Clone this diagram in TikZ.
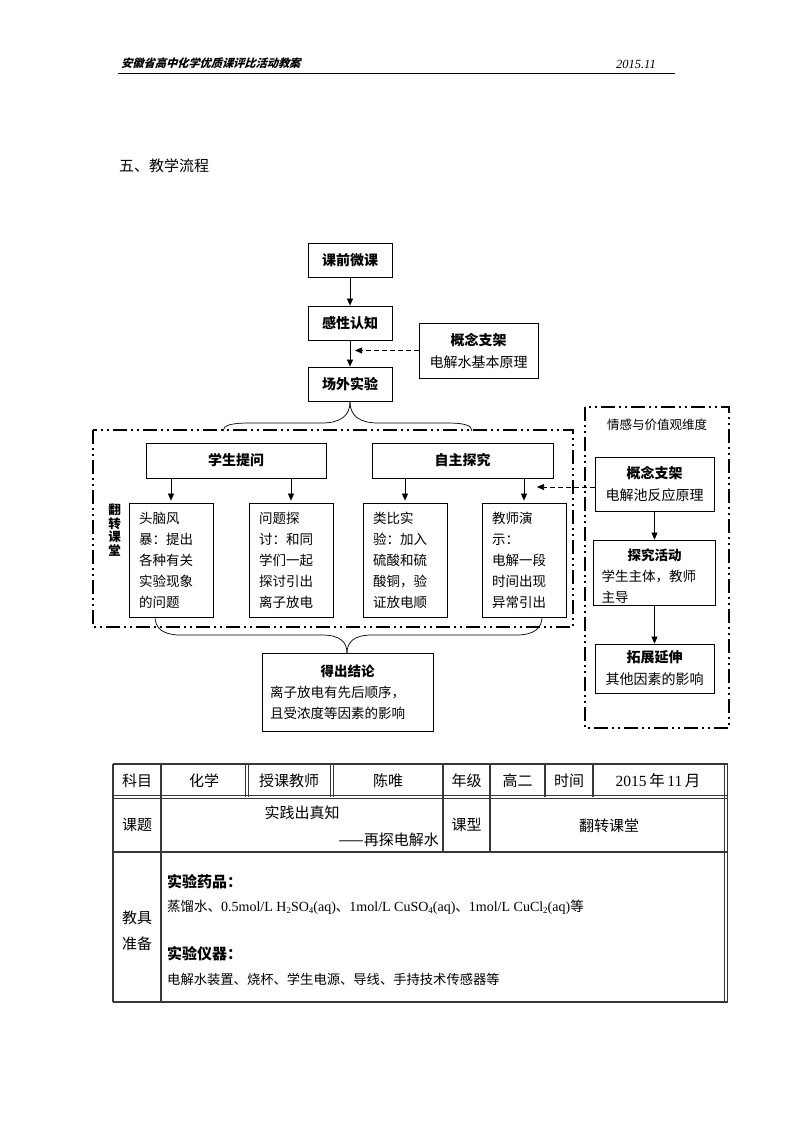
\documentclass[tikz,border=0pt]{standalone}
\usepackage{fontspec}
\setmainfont{Liberation Serif}
\newfontfamily\cjk{Noto Sans CJK SC}
\newfontfamily\cjkslant[FakeSlant=0.3]{Noto Sans CJK SC}
\usetikzlibrary{arrows.meta,calc}
% chemical subscript
\newcommand\sbx[1]{\raisebox{-0.35ex}{\fontsize{9}{9}\selectfont #1}}
\begin{document}
\begin{tikzpicture}[x=1pt,y=-1pt,
  box/.style={draw=black,line width=0.8pt,inner sep=0pt,align=center,
    font=\cjk\fontsize{14}{22}\selectfont},
  titlebox/.style={box,font=\cjk\bfseries\fontsize{14}{16}\selectfont},
  textbox/.style={box,align=left,text width=64pt,inner xsep=10pt,
    minimum height=114pt,font=\cjk\fontsize{13.5}{21}\selectfont},
  arr/.style={line width=0.7pt,-{Triangle[length=7pt,width=6pt]}},
  darr/.style={arr,dash pattern=on 4.5pt off 3.5pt},
  dashframe/.style={line width=1.6pt,
    dash pattern=on 14pt off 4pt on 2pt off 4pt on 2pt off 4pt},
  brace/.style={line width=0.7pt},
  tborder/.style={draw=black!78,line width=1.7pt},
  tinner/.style={draw=black!78,line width=1.2pt},
  tdouble/.style={draw=black!78,line width=0.8pt},
  cell/.style={inner sep=0pt,font=\cjk\fontsize{15}{26}\selectfont,align=center},
]
\useasboundingbox[fill=white] (0,0) rectangle (794,1123);

% ---------- page header ----------
\node[anchor=base west,inner sep=0pt,font=\cjkslant\bfseries\fontsize{11.2}{12}\selectfont]
  (hd) at (121,68) {安徽省高中化学优质课评比活动教案};
\node[anchor=base east,inner sep=0pt,font=\itshape\fontsize{12.5}{14}\selectfont]
  (yr) at (656,69) {2015.11};
\draw[line width=1.3pt] (118,73.5) -- (675,73.5);

\node[anchor=west,inner sep=0pt,font=\cjk\fontsize{15}{18}\selectfont]
  (sec) at (119,166) {五、教学流程};

% ---------- upper chain ----------
\node[titlebox,minimum width=84pt,minimum height=34pt] (kq) at (350,260) {课前微课};
\node[titlebox,minimum width=84pt,minimum height=34pt] (gx) at (350,323) {感性认知};
\node[box,minimum width=119pt,minimum height=55pt] (gn1) at (478.5,350.5)
  {\textbf{概念支架}\\电解水基本原理};
\node[titlebox,minimum width=84pt,minimum height=34pt] (cw) at (350,384) {场外实验};
\coordinate (m1) at (355,350.5);

\draw[arr] (kq) -- (gx);
\draw[arr] (gx) -- (cw);
\draw[darr] (gn1.west) -- (m1);

% brace under the field experiment
\draw[brace] (350,402) .. controls (350,416) and (340,423) .. (322,423) -- (250,423)
  .. controls (232,423) and (223,425) .. (223,431);
\draw[brace] (350,402) .. controls (350,416) and (360,423) .. (378,423) -- (446,423)
  .. controls (464,423) and (472,425) .. (472,431);

% ---------- flipped classroom frame ----------
\draw[dashframe] (93,430) rectangle (573,627);
\node[inner sep=0pt,align=center,font=\cjk\bfseries\fontsize{12.5}{13.8}\selectfont]
  (fz) at (114.5,530) {翻\\转\\课\\堂};

\node[titlebox,minimum width=180pt,minimum height=35pt] (ask) at (236,460.5) {学生提问};
\node[titlebox,minimum width=181pt,minimum height=35pt] (zz) at (462.5,460.5) {自主探究};

\node[textbox] (b1) at (171,560) {头脑风\\暴：提出\\各种有关\\实验现象\\的问题};
\node[textbox] (b2) at (291,560) {问题探\\讨：和同\\学们一起\\探讨引出\\离子放电};
\node[textbox] (b3) at (405,560) {类比实\\验：加入\\硫酸和硫\\酸铜，验\\证放电顺};
\node[textbox] (b4) at (524,560) {教师演\\示：\\电解一段\\时间出现\\异常引出};

\draw[arr,shorten >=2pt] (ask.south -| b1) -- (b1);
\draw[arr,shorten >=2pt] (ask.south -| b2) -- (b2);
\draw[arr,shorten >=2pt] (zz.south -| b3) -- (b3);
\draw[arr,shorten >=2pt] (zz.south -| b4) -- (b4);

% brace above the conclusion
\draw[brace] (155,617) .. controls (155,628) and (163,635) .. (180,635) -- (322,635)
  .. controls (340,635) and (347,642) .. (347,653);
\draw[brace] (542,617) .. controls (542,628) and (534,635) .. (517,635) -- (372,635)
  .. controls (354,635) and (347,642) .. (347,653);

\node[box,align=left,text width=155pt,inner xsep=8pt,minimum height=78pt,
  font=\cjk\fontsize{13.5}{21}\selectfont] (jl) at (347.5,692)
  {\makebox[155pt]{\bfseries 得出结论}\\离子放电有先后顺序，\\且受浓度等因素的影响};

% ---------- emotion and value frame ----------
\draw[dashframe] (585,407) rectangle (729,728);
\node[inner sep=0pt,font=\cjk\fontsize{12.5}{14}\selectfont] (qg) at (657,425) {情感与价值观维度};

\node[box,minimum width=119pt,minimum height=54pt] (gn2) at (654.5,484)
  {\textbf{概念支架}\\电解池反应原理};
\node[box,align=left,text width=106pt,inner xsep=8pt,minimum height=65pt,
  font=\cjk\fontsize{13.5}{21}\selectfont] (tj) at (654.5,572.5)
  {\makebox[106pt]{\bfseries 探究活动\rule{0pt}{20pt}}\\学生主体，教师\\主导};
\node[box,minimum width=119pt,minimum height=49pt] (tz) at (654.5,668.5)
  {\textbf{拓展延伸}\\其他因素的影响};

\coordinate (m2) at (537,487);
\draw[darr] (gn2.west |- m2) -- (m2);
\draw[arr] (gn2) -- (tj);
\draw[arr] (tj) -- (tz);

% ---------- lesson information table ----------
\draw[tborder] (113,764) -- (727.5,764);
\draw[tdouble] (113,795.6) -- (727.5,795.6);
\draw[tdouble] (113,798.6) -- (727.5,798.6);
\draw[tborder] (113,852) -- (727.5,852);
\draw[tborder] (113,1002) -- (727.5,1002);
\draw[tborder] (113,764) -- (113,1002);
\draw[tdouble] (724,764) -- (724,1002);
\draw[tdouble] (727.5,764) -- (727.5,1002);
\draw[tinner] (161,764) -- (161,1002);
\draw[tdouble] (245.8,764) -- (245.8,797);
\draw[tdouble] (248.8,764) -- (248.8,797);
\draw[tdouble] (330.8,764) -- (330.8,797);
\draw[tdouble] (333.8,764) -- (333.8,797);
\draw[tinner] (443,764) -- (443,852);
\draw[tinner] (490,764) -- (490,852);
\draw[tinner] (545,764) -- (545,797);
\draw[tinner] (593,764) -- (593,797);

\node[cell] (c11) at (137,780.5) {科目};
\node[cell] (c12) at (204,780.5) {化学};
\node[cell] (c13) at (289,780.5) {授课教师};
\node[cell] (c14) at (388,780.5) {陈唯};
\node[cell] (c15) at (466.5,780.5) {年级};
\node[cell] (c16) at (517.5,780.5) {高二};
\node[cell] (c17) at (569,780.5) {时间};
\node[cell,font=\fontsize{15.5}{18}\selectfont] (c18) at (658,780.5)
  {2015\,{\cjk 年}\,11\,{\cjk 月}};

\node[cell] (c21) at (137,824.5) {课题};
\node[cell] (c22a) at (302,813) {实践出真知};
\node[cell,anchor=east] (c22b) at (439,840) {——再探电解水};
\node[cell] (c23) at (466.5,824.5) {课型};
\node[cell] (c24) at (609,826) {翻转课堂};

\node[cell] (c31) at (137,931) {教具\\准备};
\node[cell,anchor=west,font=\cjk\bfseries\fontsize{15}{18}\selectfont] (yp) at (167,882) {实验药品：};
\node[cell,anchor=west,font=\fontsize{14}{16}\selectfont] (ypl) at (167,907)
  {{\cjk\fontsize{13.5}{16}\selectfont 蒸馏水、}0.5mol/L H\sbx{2}SO\sbx{4}(aq){\cjk\fontsize{13.5}{16}\selectfont 、}1mol/L CuSO\sbx{4}(aq){\cjk\fontsize{13.5}{16}\selectfont 、}1mol/L CuCl\sbx{2}(aq){\cjk\fontsize{13.5}{16}\selectfont 等}};
\node[cell,anchor=west,font=\cjk\bfseries\fontsize{15}{18}\selectfont] (yq) at (167,954) {实验仪器：};
\node[cell,anchor=west,font=\cjk\fontsize{13.3}{15}\selectfont] (yql) at (167,979)
  {电解水装置、烧杯、学生电源、导线、手持技术传感器等};
\end{tikzpicture}
\end{document}
